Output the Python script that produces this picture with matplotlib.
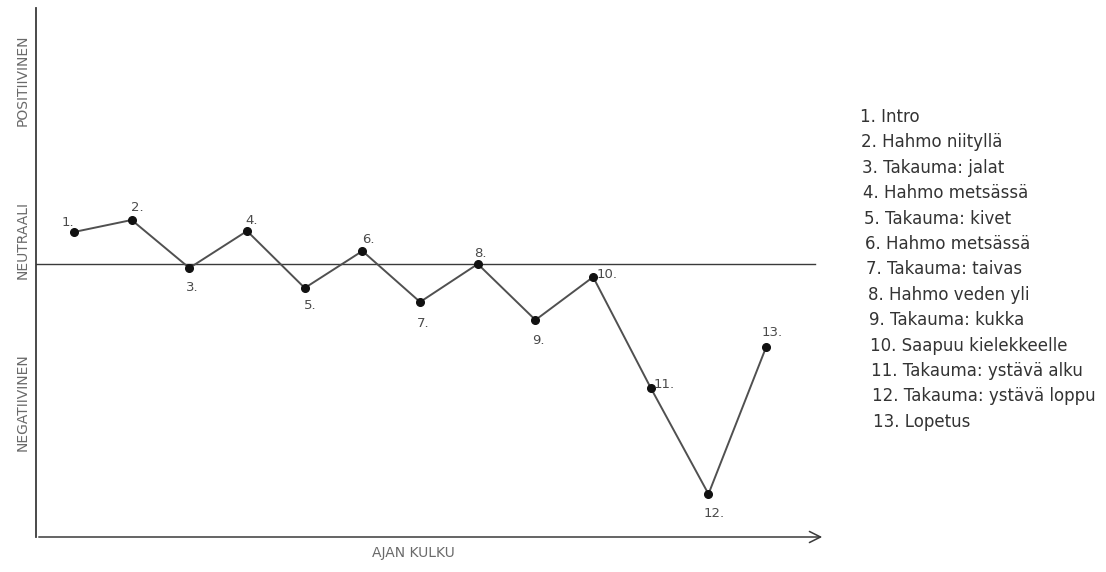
import matplotlib
matplotlib.use("Agg")
import matplotlib.pyplot as plt

# Data
scene_numbers = list(range(1, 14))
sentiment = [3.15, 4.35, -0.45, 3.25, -2.45, 1.25, -3.85, -0.05, -5.65, -1.35, -12.45, -23.05, -8.35]
point_labels = [f"{i}." for i in scene_numbers]
legend_items = ["1. Intro", "2. Hahmo niityllä", "3. Takauma: jalat", "4. Hahmo metsässä",
                "5. Takauma: kivet", "6. Hahmo metsässä", "7. Takauma: taivas",
                "8. Hahmo veden yli", "9. Takauma: kukka", "10. Saapuu kielekkeelle",
                "11. Takauma: ystävä alku", "12. Takauma: ystävä loppu", "13. Lopetus"]
y_labels = ["POSITIIVINEN", "NEUTRAALI", "NEGATIIVINEN"]
x_label = "AJAN KULKU"

# label offsets in pixels (dx, dy)
label_offsets = [(-6, 10), (6, 13), (3, -19), (5, 11), (6, -17), (6, 12), (3, -21),
                 (3, 11), (3, -20), (14, 3), (13, 4), (6, -19), (6, 15)]

plt.rcParams['font.family'] = ['DejaVu Sans']
ink = "#3a3a3a"
txt = "#4a4a4a"

fig = plt.figure(figsize=(11.06, 5.72), dpi=100)
ax = fig.add_axes([36/1106, 1-537/572, (825-36)/1106, (537-8)/572])
ax.set_xlim(0.341, 14.02)
ax.set_ylim(-27.35, 25.55)
for s in ax.spines.values():
    s.set_visible(False)
ax.set_xticks([])
ax.set_yticks([])

# y axis
ax.plot([0.341, 0.341], [-27.35, 25.55], color=ink, lw=1.3, clip_on=False)
# x axis arrow
ax.annotate("", xy=(14.02, -27.35), xytext=(0.341, -27.35),
            arrowprops=dict(arrowstyle="->,head_length=0.8,head_width=0.4", color=ink, lw=1.1),
            annotation_clip=False)
# neutral line
ax.plot([0.341, 13.85], [0, 0], color=ink, lw=1.0)

ax.plot(scene_numbers, sentiment, color="#505050", lw=1.4, marker="o", markersize=5.5,
        markerfacecolor="#111111", markeredgecolor="#111111")

for x, y, lab, off in zip(scene_numbers, sentiment, point_labels, label_offsets):
    ax.annotate(lab, (x, y), xytext=off, textcoords="offset pixels", ha="center", va="center",
                fontsize=9.5, color=txt)

# y labels
for lab, ypix in zip(y_labels, [80, 240, 402]):
    fig.text(23/1106, 1-ypix/572, lab, rotation=90, ha="center", va="center", fontsize=10,
             color="#6a6a6a")
fig.text(413/1106, 1-553/572, x_label, ha="center", va="center", fontsize=10, color="#6a6a6a")

# legend list
for i, item in enumerate(legend_items):
    xpix = 860 + i*13/12
    ypix = 117 + i*25.4
    fig.text(xpix/1106, 1-ypix/572, item, ha="left", va="center", fontsize=12, color="#333333")

fig.savefig("out.png", dpi=100)
